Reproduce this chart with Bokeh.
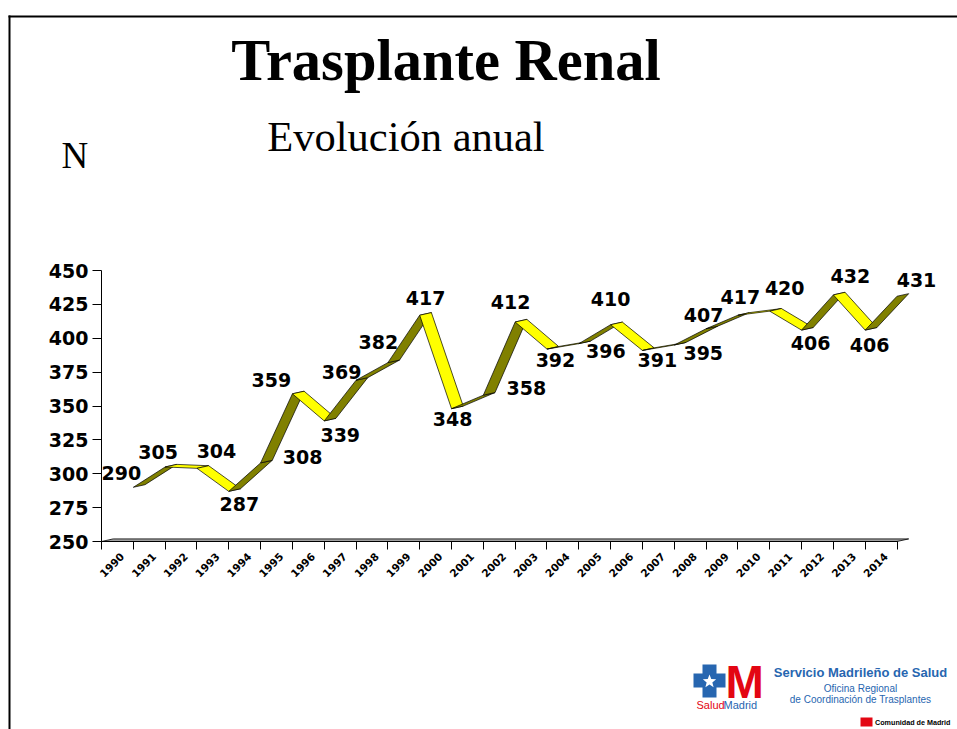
import math
from bokeh.plotting import figure
from bokeh.models import Range1d, FixedTicker, ColumnDataSource
from bokeh.core.properties import value
from bokeh.embed import file_html
from bokeh.resources import INLINE

# ---------------- data ----------------
years = [str(y) for y in range(1990, 2015)]
trasplantes = [290, 305, 304, 287, 308, 359, 339, 369, 382, 417, 348, 358, 412,
               392, 396, 410, 391, 395, 407, 417, 420, 406, 432, 406, 431]
y_ticks = [250, 275, 300, 325, 350, 375, 400, 425, 450]
title_text = "Trasplante Renal"
subtitle_text = "Evolución anual"
y_title = "N"

# label placement (pixels, right / down) relative to the front edge of the ribbon
label_dx = [-12, -7, 19.5, 10.5, 42, -21, 16, -14.5, -9.5, 6, 1, 43, -4.5,
            8.5, 27, 0, 15, 29, -2.5, 2.5, 15, 9, 17, 4.5, 19.5]
label_dy = [-14, -15, -17, 13, -6, -14, 14, -8, -21, -17, 10, -7, -19.5,
            10.5, 7, -26, 10, 7.5, -14, -18.5, -23.5, 12.5, -18.5, 14.5, -16.5]

# ---------------- layout ----------------
W, H = 957, 729
AX_X, AX_Y = 101, 541     # pixel position of the axes
SX = 31.82                # px per category
SY = 1.355                # px per unit
OFF = 0.15                # label anchor shift inside a category
YMIN = 250

def X(px):  # pixel x -> data x
    return (px - AX_X) / SX - 0.5 - OFF

def Y(py):  # pixel y -> data y
    return YMIN + (AX_Y - py) / SY

x0 = -0.5 - OFF
p = figure(width=W, height=H, output_backend="svg", toolbar_location=None,
           x_range=Range1d(X(0), X(W)), y_range=Range1d(Y(H), Y(0)),
           min_border=0, min_border_left=0, min_border_bottom=0,
           min_border_top=0, min_border_right=0,
           background_fill_color="white", border_fill_color="white")
p.outline_line_color = None
p.grid.visible = False

# axes (placed at fixed data locations inside the frame)
xa = p.xaxis[0]
xa.fixed_location = YMIN
xa.ticker = FixedTicker(ticks=list(range(len(years))),
                        minor_ticks=[k - 0.5 - OFF for k in range(len(years) + 1)])
xa.major_label_overrides = {i: y for i, y in enumerate(years)}
xa.major_label_orientation = math.pi / 4
xa.major_tick_out = 0
xa.major_tick_in = 0
xa.minor_tick_out = 8
xa.minor_tick_in = 0
xa.minor_tick_line_color = "black"
xa.axis_line_color = "black"
xa.bounds = (x0, x0 + len(years))
xa.major_label_text_font = "DejaVu Sans"
xa.major_label_text_font_style = "bold"
xa.major_label_text_font_size = "10.5px"
xa.major_label_text_color = "black"
xa.major_label_standoff = 5

ya = p.yaxis[0]
ya.fixed_location = x0
ya.ticker = FixedTicker(ticks=y_ticks, minor_ticks=[])
ya.bounds = (y_ticks[0], y_ticks[-1])
ya.major_tick_out = 9
ya.major_tick_in = 0
ya.axis_line_color = "black"
ya.major_tick_line_color = "black"
ya.major_label_text_font = "DejaVu Sans"
ya.major_label_text_font_style = "bold"
ya.major_label_text_font_size = "19px"
ya.major_label_text_color = "black"
ya.major_label_standoff = 4

# 3D floor
DX = 11.7 / SX
DY = 2.6 / SY
p.patch([x0, x0 + len(years), x0 + len(years) + DX, x0 + DX],
        [YMIN, YMIN, YMIN + DY, YMIN + DY],
        fill_color="#a0a0a0", line_color="black", line_width=0.8)

# 3D ribbon
xs = [i + 0.5 - OFF for i in range(len(years))]
pxs, pys, cols = [], [], []
depth_slope = (DY * SY) / (DX * SX)
for i in range(len(years) - 1):
    xa_, xb_ = xs[i], xs[i + 1]
    va, vb = trasplantes[i], trasplantes[i + 1]
    pxs.append([xa_, xb_, xb_ + DX, xa_ + DX])
    pys.append([va, vb, vb + DY, va + DY])
    slope = (vb - va) * SY / SX
    cols.append("#808000" if slope > depth_slope else "#ffff00")
p.patches(pxs, pys, fill_color=cols, line_color="black", line_width=0.7)

# data labels
lab = ColumnDataSource(dict(
    x=[xs[i] + label_dx[i] / SX for i in range(len(years))],
    y=[trasplantes[i] - label_dy[i] / SY for i in range(len(years))],
    t=[str(v) for v in trasplantes]))
p.text("x", "y", text="t", source=lab, text_font=value("DejaVu Sans"),
       text_font_style="bold", text_font_size="19px", text_color="black",
       text_align="center", text_baseline="middle")

def txt(px, py, s, size, font="Liberation Serif", style="normal", color="black", align="center"):
    p.text([X(px)], [Y(py)], text=[s], text_font=value(font), text_font_style=style,
           text_font_size=size, text_color=color, text_align=align, text_baseline="middle")

# titles
txt(445.5, 60, title_text, "58.5px", style="bold")
txt(405.5, 136, subtitle_text, "42.5px")
txt(61, 154.5, y_title, "37px", align="left")

# slide border lines
p.quad(left=[X(8), X(8)], right=[X(10), X(W + 2)], top=[Y(15), Y(15)], bottom=[Y(H + 2), Y(17)],
       fill_color="black", line_color=None)

# logo
blue = "#2766b0"
red = "#e30613"
cross = [(702, 664), (716, 664), (716, 673), (725, 673), (725, 687), (716, 687), (716, 697),
         (702, 697), (702, 687), (693, 687), (693, 673), (702, 673)]
p.patch([X(a) for a, b in cross], [Y(b) for a, b in cross], fill_color=blue, line_color=None)
star = []
for k in range(10):
    r = 7 if k % 2 == 0 else 3
    ang = math.pi / 2 + k * math.pi / 5
    star.append((709 + r * math.cos(ang), 681 - r * math.sin(ang)))
p.patch([X(a) for a, b in star], [Y(b) for a, b in star], fill_color="white", line_color=None)
txt(725, 681, "M", "46px", font="Liberation Sans", style="bold", color=red, align="left")
txt(696, 704.2, "Salud", "11px", font="Liberation Sans", color=red, align="left")
txt(723, 704.2, "Madrid", "11px", font="Liberation Sans", color=blue, align="left")
txt(860, 671.5, "Servicio Madrileño de Salud", "13px", font="Liberation Sans", style="bold", color=blue)
txt(860, 687.5, "Oficina Regional", "10px", font="Liberation Sans", color=blue)
txt(860, 698.5, "de Coordinación de Trasplantes", "10px", font="Liberation Sans", color=blue)
p.quad(left=[X(860)], right=[X(872)], top=[Y(717)], bottom=[Y(726)], fill_color=red, line_color=None)
txt(950, 721.5, "Comunidad de Madrid", "7.2px", font="Liberation Sans", style="bold", align="right")

open("out.html", "w").write(file_html(p, INLINE))
